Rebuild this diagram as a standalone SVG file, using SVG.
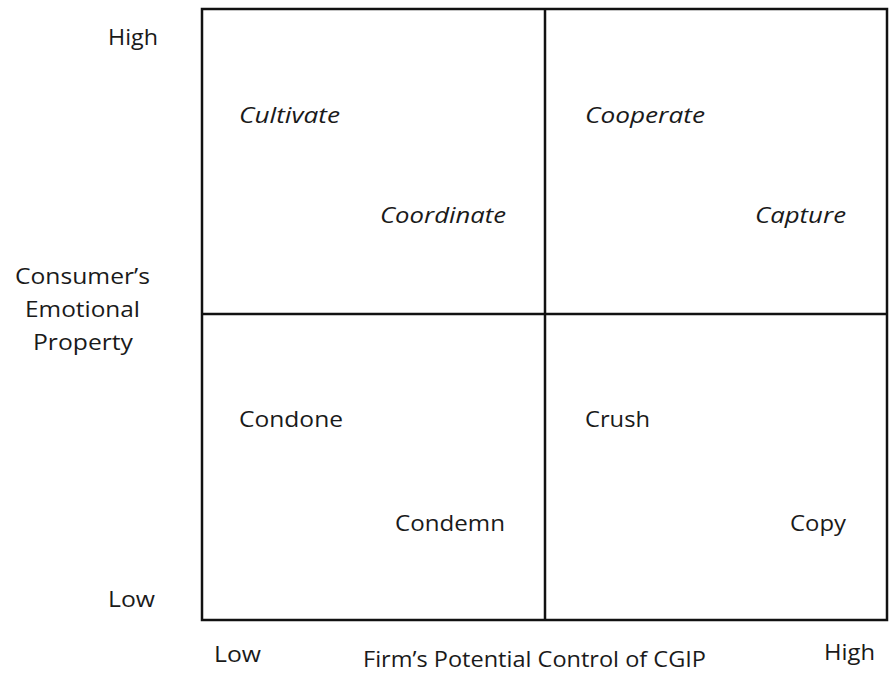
<svg xmlns="http://www.w3.org/2000/svg" width="889" height="679" viewBox="0 0 889 679">
<style>
text{font-family:"Open Sans","Liberation Sans",sans-serif;font-size:22px;fill:#1a1a1a}
.i{font-style:italic}
.ln{stroke:#111;stroke-width:2.5;fill:none}
</style>
<rect width="889" height="679" fill="#fff"/>
<g id="grid">
<rect class="ln" x="202" y="9" width="685" height="611"/>
<line class="ln" x1="545" y1="9" x2="545" y2="620"/>
<line class="ln" x1="202" y1="314" x2="887" y2="314"/>
</g>
<g id="y-axis">
<text x="108" y="45" textLength="50" lengthAdjust="spacingAndGlyphs">High</text>
<text x="15" y="284" textLength="135" lengthAdjust="spacingAndGlyphs">Consumer’s</text>
<text x="25" y="317" textLength="115" lengthAdjust="spacingAndGlyphs">Emotional</text>
<text x="33" y="350" textLength="100" lengthAdjust="spacingAndGlyphs">Property</text>
<text x="108" y="607" textLength="47" lengthAdjust="spacingAndGlyphs">Low</text>
</g>
<g id="x-axis">
<text x="214" y="662" textLength="47" lengthAdjust="spacingAndGlyphs">Low</text>
<text x="363" y="667" textLength="343" lengthAdjust="spacingAndGlyphs">Firm’s Potential Control of CGIP</text>
<text x="824" y="660" textLength="51" lengthAdjust="spacingAndGlyphs">High</text>
</g>
<g id="q-top-left">
<text class="i" x="239" y="123" textLength="101" lengthAdjust="spacingAndGlyphs">Cultivate</text>
<text class="i" x="380" y="223" textLength="126" lengthAdjust="spacingAndGlyphs">Coordinate</text>
</g>
<g id="q-top-right">
<text class="i" x="585" y="123" textLength="120" lengthAdjust="spacingAndGlyphs">Cooperate</text>
<text class="i" x="755" y="223" textLength="91" lengthAdjust="spacingAndGlyphs">Capture</text>
</g>
<g id="q-bottom-left">
<text x="239" y="427" textLength="104" lengthAdjust="spacingAndGlyphs">Condone</text>
<text x="395" y="531" textLength="110" lengthAdjust="spacingAndGlyphs">Condemn</text>
</g>
<g id="q-bottom-right">
<text x="585" y="427" textLength="65" lengthAdjust="spacingAndGlyphs">Crush</text>
<text x="790" y="531" textLength="56" lengthAdjust="spacingAndGlyphs">Copy</text>
</g>
</svg>
